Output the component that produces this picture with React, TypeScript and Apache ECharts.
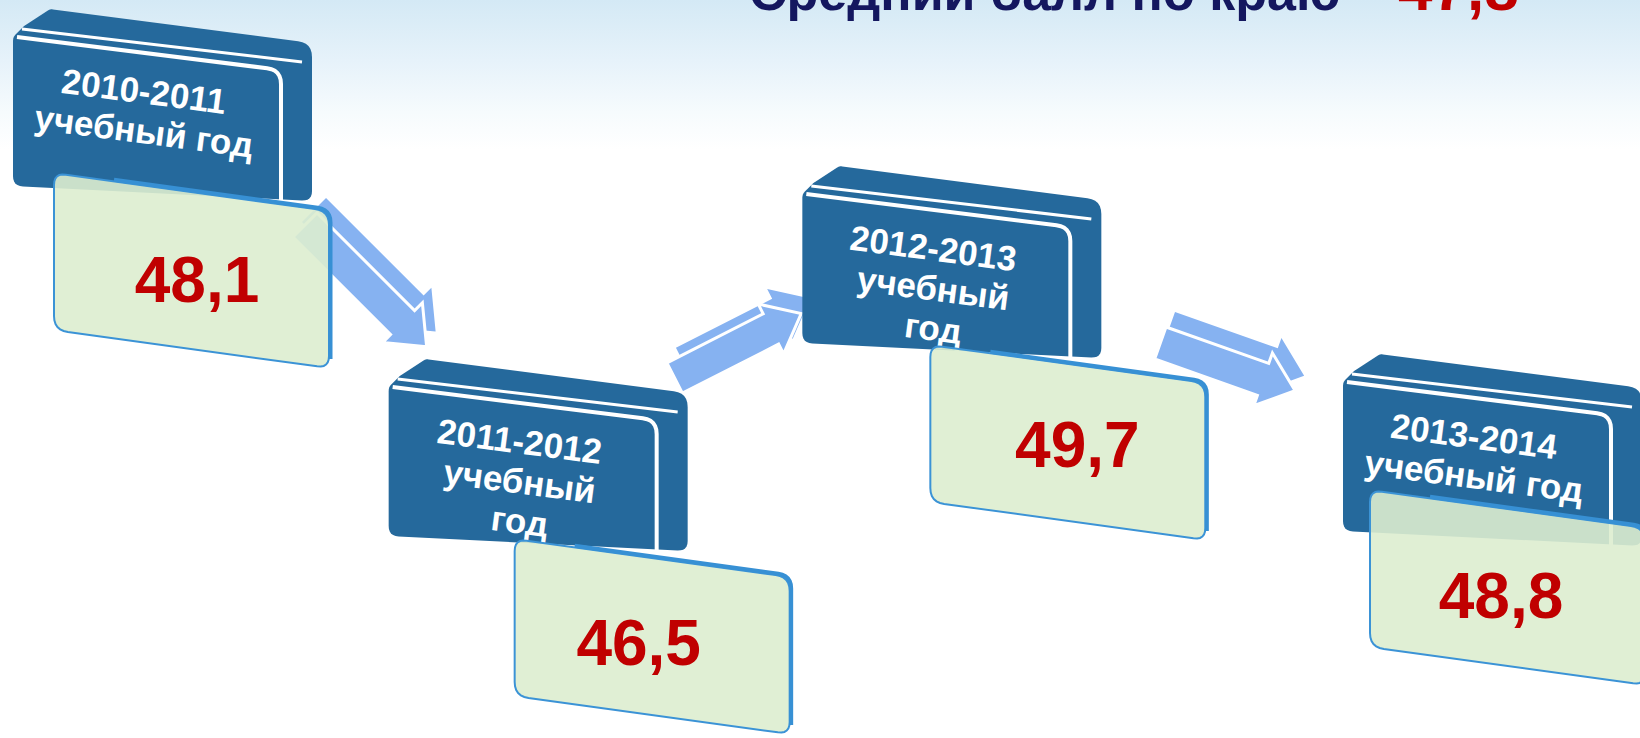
import React, { useEffect, useRef } from 'react';
import * as echarts from 'echarts';

// ---------- data ----------
const categories: string[] = [
  '2010-2011\nучебный год',
  '2011-2012\nучебный\nгод',
  '2012-2013\nучебный\nгод',
  '2013-2014\nучебный год',
];
const values: number[] = [48.1, 46.5, 49.7, 48.8];
const titleText = 'Средний балл по краю';
const regionAverage = 47.8;

// ---------- layout (pixels, relative to each step's anchor) ----------
const rowY = [280, 643, 445, 596];
const valueShift = [[0, 0], [7, 0], [11, 0], [0, 0]];
const darkShift = [[-184, -245], [-243, -258], [-264, -253], [-158, -216]];
const greenShift = [[-143, -107], [-117, -104], [-136, -100], [-131, -106]];
const arrowLayout = [
  { dx: 108, dy: -55, angle: 45, len: 172 },
  { dx: 43, dy: -265, angle: -27, len: 142 },
  { dx: 94, dy: -102, angle: 19.5, len: 143 },
];

const FONT = '"Liberation Sans", Arial, Helvetica, sans-serif';
const DARK = '#25699c';
const ARROW = '#86b2f1';
const RED = '#c00000';
const NAVY = '#14175f';

function fmt(v: number) {
  return v.toFixed(1).replace('.', ',');
}

function rounded(pts: number[][], radii: number[], closed: boolean, ox: number, oy: number, seg = 6) {
  const out: number[][] = [];
  const n = pts.length;
  for (let i = 0; i < n; i++) {
    const p = pts[i];
    const r = radii[i] || 0;
    if ((!closed && (i === 0 || i === n - 1)) || r <= 0) {
      out.push([p[0] + ox, p[1] + oy]);
      continue;
    }
    const a = pts[(i - 1 + n) % n];
    const b = pts[(i + 1) % n];
    const la = Math.hypot(a[0] - p[0], a[1] - p[1]);
    const lb = Math.hypot(b[0] - p[0], b[1] - p[1]);
    const ra = Math.min(r, la / 2);
    const rb = Math.min(r, lb / 2);
    const p1 = [p[0] + ((a[0] - p[0]) / la) * ra, p[1] + ((a[1] - p[1]) / la) * ra];
    const p2 = [p[0] + ((b[0] - p[0]) / lb) * rb, p[1] + ((b[1] - p[1]) / lb) * rb];
    for (let k = 0; k <= seg; k++) {
      const t = k / seg;
      const x = (1 - t) * (1 - t) * p1[0] + 2 * (1 - t) * t * p[0] + t * t * p2[0];
      const y = (1 - t) * (1 - t) * p1[1] + 2 * (1 - t) * t * p[1] + t * t * p2[1];
      out.push([x + ox, y + oy]);
    }
  }
  return out;
}

const DARK_SIL = [[0, 2], [11, -9], [37, -26], [299, 8], [299, 166], [0, 151]];
const DARK_SIL_R = [4, 2, 3, 14, 10, 10];
const WHITE1 = [[9, -6], [289, 27]];
const WHITE2 = [[4, 2], [268, 35], [268, 168]];
const GREEN = [[0, 0], [275, 38], [275, 195], [0, 157]];
const GREEN_R = [12, 14, 12, 14];
const GREEN_EDGE = [[60, 6.8], [276.5, 36.5], [276.5, 186]];

export default function App() {
  const ref = useRef<HTMLDivElement>(null);
  useEffect(() => {
    document.body.style.margin = '0';
    if (!ref.current) return;
    const chart = echarts.init(ref.current, undefined, { renderer: 'svg' });

    const stepData = values.map((v, i) => [i, v]);
    const arrowData = arrowLayout.map((_, i) => [i, values[i]]);

    const option: any = {
      animation: false,
      grid: { left: 197, right: 139, top: 0, bottom: 0 },
      xAxis: { type: 'value', min: 0, max: categories.length - 1, show: false },
      yAxis: { type: 'value', min: 0, max: 100, show: false },
      graphic: [
        {
          type: 'rect',
          z: -10,
          shape: { x: 0, y: 0, width: 1640, height: 150 },
          style: {
            fill: new echarts.graphic.LinearGradient(0, 0, 0, 1, [
              { offset: 0, color: '#d4e9f5' },
              { offset: 0.4, color: '#e6f2fa' },
              { offset: 0.75, color: '#f6fbfd' },
              { offset: 1, color: '#ffffff' },
            ]),
          },
        },
        {
          type: 'text',
          x: 749,
          y: -8,
          style: { text: titleText, fill: NAVY, font: `bold 52px ${FONT}`, align: 'left', verticalAlign: 'middle' },
        },
        {
          type: 'text',
          x: 1398,
          y: -12,
          style: { text: fmt(regionAverage), fill: RED, font: `bold 62px ${FONT}`, align: 'left', verticalAlign: 'middle' },
        },
      ],
      series: [
        {
          type: 'custom',
          name: 'arrows',
          silent: true,
          clip: false,
          data: arrowData,
          renderItem: (params: any, api: any) => {
            const i = api.value(0);
            const ax = api.coord([i, 0])[0];
            const ay = rowY[i];
            const L = arrowLayout[i];
            const sx = ax + L.dx;
            const sy = ay + L.dy;
            const a = (L.angle * Math.PI) / 180;
            const headLen = 34;
            const bodyLen = L.len - headLen;
            const bh = 17;
            const hh = 28;
            const local = [
              [0, -bh], [bodyLen, -bh], [bodyLen, -hh], [L.len, 0], [bodyLen, hh], [bodyLen, bh], [0, bh],
            ];
            const pts = local.map(([u, v]) => [
              sx + u * Math.cos(a) - v * Math.sin(a),
              sy + u * Math.sin(a) + v * Math.cos(a),
            ]);
            const back = pts.map(([x, y]) => [x + 9, y - 15]);
            return {
              type: 'group',
              children: [
                { type: 'polygon', shape: { points: back }, style: { fill: ARROW } },
                { type: 'polygon', shape: { points: pts }, style: { fill: ARROW, stroke: '#ffffff', lineWidth: 3 } },
              ],
            };
          },
        },
        {
          type: 'custom',
          name: 'steps',
          silent: true,
          clip: false,
          data: stepData,
          renderItem: (params: any, api: any) => {
            const i = api.value(0);
            const v = api.value(1);
            const ax = api.coord([i, 0])[0];
            const ay = rowY[i];
            const ox = ax + darkShift[i][0];
            const oy = ay + darkShift[i][1];
            const gx = ax + greenShift[i][0];
            const gy = ay + greenShift[i][1];
            const children: any[] = [];
            children.push({
              type: 'polygon',
              shape: { points: rounded(DARK_SIL, DARK_SIL_R, true, ox, oy) },
              style: { fill: DARK },
            });
            children.push({
              type: 'polyline',
              shape: { points: rounded(WHITE1, [0, 0], false, ox, oy) },
              style: { stroke: '#ffffff', lineWidth: 3, fill: null },
            });
            children.push({
              type: 'polyline',
              shape: { points: rounded(WHITE2, [0, 14, 0], false, ox, oy) },
              style: { stroke: '#ffffff', lineWidth: 4, fill: null },
            });
            const lines = categories[i].split('\n');
            lines.forEach((line, k) => {
              children.push({
                type: 'text',
                x: ox + 131,
                y: oy + 56 + 40 * k,
                rotation: -0.13,
                style: {
                  text: line,
                  fill: '#ffffff',
                  font: `bold 35px ${FONT}`,
                  align: 'center',
                  verticalAlign: 'middle',
                },
              });
            });
            children.push({
              type: 'polygon',
              shape: { points: rounded(GREEN, GREEN_R, true, gx, gy) },
              style: { fill: 'rgba(221,237,207,0.9)', stroke: '#3b93d6', lineWidth: 2 },
            });
            children.push({
              type: 'polyline',
              shape: { points: rounded(GREEN_EDGE, [0, 13, 0], false, gx, gy) },
              style: { stroke: '#3790d4', lineWidth: 4, fill: null },
            });
            children.push({
              type: 'text',
              x: ax + valueShift[i][0],
              y: ay + valueShift[i][1],
              style: {
                text: fmt(v),
                fill: RED,
                font: `bold 64px ${FONT}`,
                align: 'center',
                verticalAlign: 'middle',
              },
            });
            return { type: 'group', children };
          },
        },
      ],
    };
    chart.setOption(option);
    return () => chart.dispose();
  }, []);
  return (
    <div
      ref={ref}
      style={{ position: 'absolute', left: 0, top: 0, width: 1640, height: 738, background: '#ffffff' }}
    />
  );
}
